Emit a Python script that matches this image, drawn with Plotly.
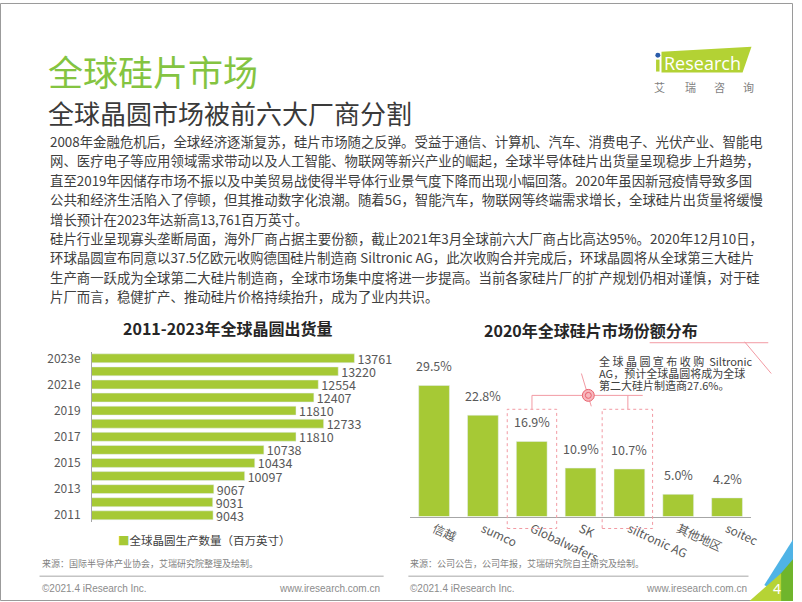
import plotly.graph_objects as go

W, H = 802, 602


def px(x):
    return x / W


def py(y):
    return 1 - y / H


# ---------------- data ----------------
years = ["2011", "2012", "2013", "2014", "2015", "2016", "2017", "2018",
         "2019", "2020", "2021e", "2022e", "2023e"]
shipments = [9043, 9031, 9067, 10097, 10434, 10738, 11810, 12733,
             11810, 12407, 12554, 13220, 13761]
year_ticks = years[::2]

companies = ["信越", "sumco", "Globalwafers", "SK", "siltronic AG", "其他地区", "soitec"]
shares = [29.5, 22.8, 16.9, 10.9, 10.7, 5.0, 4.2]
share_labels = [f"{v:.1f}%" for v in shares]

paragraph = [
    "2008年金融危机后，全球经济逐渐复苏，硅片市场随之反弹。受益于通信、计算机、汽车、消费电子、光伏产业、智能电",
    "网、医疗电子等应用领域需求带动以及人工智能、物联网等新兴产业的崛起，全球半导体硅片出货量呈现稳步上升趋势，",
    "直至2019年因储存市场不振以及中美贸易战使得半导体行业景气度下降而出现小幅回落。2020年虽因新冠疫情导致多国",
    "公共和经济生活陷入了停顿，但其推动数字化浪潮。随着5G，智能汽车，物联网等终端需求增长，全球硅片出货量将缓慢",
    "增长预计在2023年达新高13,761百万英寸。",
    "硅片行业呈现寡头垄断局面，海外厂商占据主要份额，截止2021年3月全球前六大厂商占比高达95%。2020年12月10日，",
    "环球晶圆宣布同意以37.5亿欧元收购德国硅片制造商 Siltronic AG，此次收购合并完成后，环球晶圆将从全球第三大硅片",
    "生产商一跃成为全球第二大硅片制造商，全球市场集中度将进一步提高。当前各家硅片厂的扩产规划仍相对谨慎，对于硅",
    "片厂而言，稳健扩产、推动硅片价格持续抬升，成为了业内共识。",
]

callout_lines = [
    "全 球 晶 圆 宣 布 收 购  Siltronic",
    "AG，预计全球晶圆将成为全球",
    "第二大硅片制造商27.6%。",
]

# ---------------- styles ----------------
FONT = "Noto Sans CJK SC, Noto Sans, sans-serif"
BAR = "#a6c935"
GREEN_TITLE = "#84c441"
TXT = "#404040"
LBL = "#595959"
PINK = "#f29aa3"

fig = go.Figure()

fig.add_trace(go.Bar(
    x=shipments, y=years, orientation="h",
    xaxis="x", yaxis="y",
    marker=dict(color=BAR), width=0.68,
    text=[str(v) for v in shipments], textposition="outside",
    constraintext="none", cliponaxis=False,
    textfont=dict(size=12.5, color=LBL, family=FONT),
    name="全球晶圆生产数量（百万英寸）", showlegend=False,
    hoverinfo="skip",
))

fig.add_trace(go.Bar(
    x=companies, y=shares,
    xaxis="x2", yaxis="y2",
    marker=dict(color=BAR), width=0.63,
    showlegend=False, hoverinfo="skip",
))

annotations = []

# share labels above bars
for c, v, t in zip(companies, shares, share_labels):
    annotations.append(dict(
        x=c, y=v, xref="x2", yref="y2", text=t, showarrow=False,
        yanchor="bottom", yshift=8,
        font=dict(size=12.5, color=LBL, family=FONT),
    ))

# titles
annotations.append(dict(x=px(47), y=py(68), xref="paper", yref="paper",
                        text="全球硅片市场", showarrow=False, xanchor="left", yanchor="middle",
                        font=dict(size=35, color=GREEN_TITLE, family=FONT)))
annotations.append(dict(x=px(47), y=py(110), xref="paper", yref="paper",
                        text="全球晶圆市场被前六大厂商分割", showarrow=False, xanchor="left",
                        yanchor="middle", font=dict(size=26, color="#3a3a3a", family=FONT)))

# paragraph
for i, line in enumerate(paragraph):
    annotations.append(dict(x=px(49), y=py(139 + 19.5 * i), xref="paper", yref="paper",
                            text=line, showarrow=False, xanchor="left", yanchor="middle",
                            font=dict(size=13.4, color=TXT, family=FONT)))

# chart titles
annotations.append(dict(x=px(230), y=py(327), xref="paper", yref="paper",
                        text="<b>2011-2023年全球晶圆出货量</b>", showarrow=False,
                        xanchor="center", yanchor="middle",
                        font=dict(size=16, color="#262626", family=FONT)))
annotations.append(dict(x=px(598), y=py(329), xref="paper", yref="paper",
                        text="<b>2020年全球硅片市场份额分布</b>", showarrow=False,
                        xanchor="center", yanchor="middle",
                        font=dict(size=16, color="#262626", family=FONT)))

# legend (manual)
annotations.append(dict(x=px(117), y=py(541), xref="paper", yref="paper",
                        text=f"<span style='color:{BAR}'>■</span>全球晶圆生产数量（百万英寸）",
                        showarrow=False, xanchor="left", yanchor="middle",
                        font=dict(size=11.5, color=TXT, family=FONT)))

# callout text
for i, line in enumerate(callout_lines):
    annotations.append(dict(x=px(604), y=py(360 + 12.3 * i), xref="paper", yref="paper",
                            text=line, showarrow=False, xanchor="left", yanchor="middle",
                            font=dict(size=11, color=TXT, family=FONT)))

# sources and footer
annotations.append(dict(x=px(40), y=py(564), xref="paper", yref="paper",
                        text="来源：国际半导体产业协会，艾瑞研究院整理及绘制。", showarrow=False,
                        xanchor="left", yanchor="middle",
                        font=dict(size=9, color="#7f7f7f", family=FONT)))
annotations.append(dict(x=px(413), y=py(564), xref="paper", yref="paper",
                        text="来源：公司公告，公司年报，艾瑞研究院自主研究及绘制。", showarrow=False,
                        xanchor="left", yanchor="middle",
                        font=dict(size=9, color="#7f7f7f", family=FONT)))
for xl, xr in [(40, 386), (413, 757)]:
    annotations.append(dict(x=px(xl), y=py(589), xref="paper", yref="paper",
                            text="©2021.4 iResearch Inc.", showarrow=False,
                            xanchor="left", yanchor="middle",
                            font=dict(size=10, color="#8c8c8c", family="Liberation Sans, Arial")))
    annotations.append(dict(x=px(xr), y=py(589), xref="paper", yref="paper",
                            text="www.iresearch.com.cn", showarrow=False,
                            xanchor="right", yanchor="middle",
                            font=dict(size=10, color="#8c8c8c", family="Liberation Sans, Arial")))

# page number
annotations.append(dict(x=px(786), y=py(589), xref="paper", yref="paper",
                        text="4", showarrow=False, xanchor="center", yanchor="middle",
                        font=dict(size=14, color="white", family="Noto Sans, sans-serif")))

# logo text
annotations.append(dict(x=px(670), y=py(60), xref="paper", yref="paper",
                        text="Research", showarrow=False, xanchor="left", yanchor="middle",
                        font=dict(size=18, color="white", family="Open Sans, Noto Sans, sans-serif")))
for ch, cx in zip(["艾", "瑞", "咨", "询"], [667, 698, 728, 757]):
    annotations.append(dict(x=px(cx), y=py(85), xref="paper", yref="paper",
                            text=ch, showarrow=False, xanchor="center", yanchor="middle",
                            font=dict(size=11, color="#7f7f7f", family=FONT)))

shapes = []


def line(x0, y0, x1, y1, color=PINK, width=1, dash="solid"):
    shapes.append(dict(type="line", xref="paper", yref="paper",
                       x0=px(x0), y0=py(y0), x1=px(x1), y1=py(y1),
                       line=dict(color=color, width=width, dash=dash)))


def poly(points, color):
    d = "M " + " L ".join(f"{px(a)},{py(b)}" for a, b in points) + " Z"
    shapes.append(dict(type="path", xref="paper", yref="paper", path=d,
                       fillcolor=color, line=dict(width=0)))


# page border
shapes.append(dict(type="rect", xref="paper", yref="paper", x0=px(0.5), y0=py(601.5),
                   x1=px(801.5), y1=py(0.5), line=dict(color="#9a9a9a", width=1)))

# callout rectangles and connectors
for x0, x1 in [(513, 563), (609, 660)]:
    shapes.append(dict(type="rect", xref="paper", yref="paper",
                       x0=px(x0), x1=px(x1), y0=py(529), y1=py(409),
                       line=dict(color=PINK, width=1, dash="dot")))
line(538, 409, 538, 395)
line(538, 395, 650, 395)
line(635, 395, 635, 409)
line(588, 373, 598, 406)
line(657, 342, 777, 342)
line(753, 341, 780, 373)
shapes.append(dict(type="circle", xref="paper", yref="paper",
                   x0=px(589), x1=px(601), y0=py(401), y1=py(389),
                   fillcolor="#f7b7bd", line=dict(color="#e9616d", width=1)))
shapes.append(dict(type="circle", xref="paper", yref="paper",
                   x0=px(592), x1=px(598), y0=py(398), y1=py(392),
                   fillcolor="rgba(0,0,0,0)", line=dict(color="#e9616d", width=1)))

# separator lines
line(40, 577, 388, 577, color="#a6a6a6")
line(413, 577, 757, 577, color="#a6a6a6")

# logo shapes
poly([(669, 49), (760, 44), (751, 70), (669, 70)], "#b3d234")
shapes.append(dict(type="rect", xref="paper", yref="paper", x0=px(663.5), x1=px(667),
                   y0=py(69), y1=py(57), fillcolor="#b3d234", line=dict(width=0)))
shapes.append(dict(type="circle", xref="paper", yref="paper", x0=px(662.8), x1=px(667.8),
                   y0=py(55), y1=py(50), fillcolor="#2a5caa", line=dict(width=0)))

# corner decoration
poly([(802, 540), (802, 562), (779, 590), (773, 586)], "#4fb3e6")
poly([(802, 560), (802, 602), (766, 602)], "#6fb52c")
poly([(758, 602), (790, 574), (790, 602)], "#b6d335")

layout = dict(
    width=W, height=H,
    margin=dict(l=0, r=0, t=0, b=0),
    paper_bgcolor="white", plot_bgcolor="rgba(0,0,0,0)",
    font=dict(family=FONT, color=TXT),
    showlegend=False,
    bargap=0.3,
    xaxis=dict(domain=[px(93), px(396)], range=[5000, 15000], visible=False, fixedrange=True),
    yaxis=dict(domain=[py(522.3), py(351.1)], type="category", categoryorder="array",
               categoryarray=years, range=[-0.5, 12.5], tickvals=year_ticks,
               showline=True, linecolor="#a6a6a6", linewidth=1, ticks="",
               showgrid=False, zeroline=False, ticklabelstandoff=8,
               tickfont=dict(size=12, color=LBL, family=FONT), fixedrange=True),
    xaxis2=dict(domain=[px(414.3), px(760)], range=[-0.5, 6.5], type="category",
                categoryorder="array", categoryarray=companies,
                showline=True, linecolor="#a6a6a6", linewidth=1, ticks="",
                showgrid=False, tickangle=25, anchor="y2",
                tickfont=dict(size=12, color=LBL, family=FONT), fixedrange=True),
    yaxis2=dict(domain=[py(517), py(360.4)], range=[0, 35], visible=False,
                anchor="x2", fixedrange=True),
    annotations=annotations,
    shapes=shapes,
)
fig.update_layout(**layout)

fig.write_html("out.html", config={"displayModeBar": False},
               post_script="document.body.style.margin='0';document.body.style.overflow='hidden';")
